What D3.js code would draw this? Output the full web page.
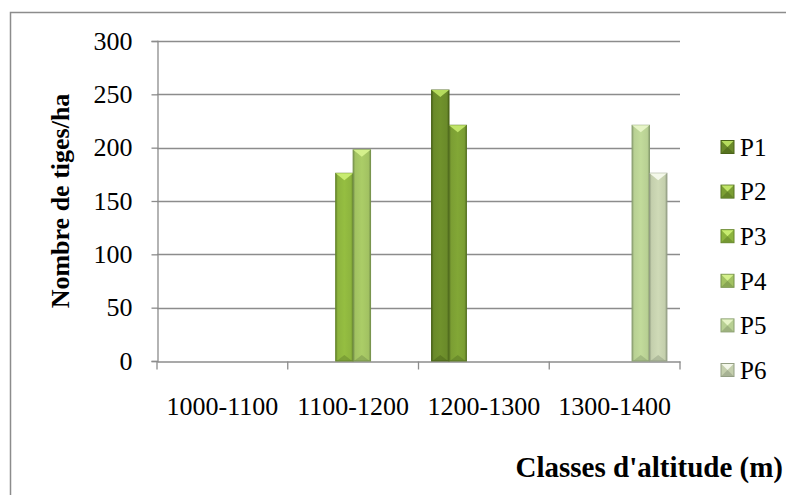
<!DOCTYPE html>
<html><head><meta charset="utf-8">
<script src="https://cdn.jsdelivr.net/npm/d3@7"></script>
<style>body{margin:0;background:#fff}svg{display:block}</style>
</head><body>
<svg id="c" width="786" height="495"></svg>
<script>
const categories = ["1000-1100","1100-1200","1200-1300","1300-1400"];
const seriesNames = ["P1","P2","P3","P4","P5","P6"];
const P1 = [0,0,254,0];
const P2 = [0,0,221,0];
const P3 = [0,176,0,0];
const P4 = [0,198,0,0];
const P5 = [0,0,0,221];
const P6 = [0,0,0,176];
const seriesValues = [P1,P2,P3,P4,P5,P6];
const yTicks = [0,50,100,150,200,250,300];
const colors = ["#6a8a2a","#7b9e33","#8db43e","#a2c262","#b8d093","#c4cfad"];
const darks  = ["#4a6319","#587523","#66862b","#76924a","#8a9f70","#949f84"];
const caps   = ["#b6dc5e","#c0e468","#c8ec70","#d4f08c","#e6f4c6","#f4f8ea"];

const svg = d3.select("#c");
const FF = '"Liberation Serif"';
const L=157, R=680, T=41, B=361;
const FS = 26;

svg.append("rect").attr("x",10.5).attr("y",12.5).attr("width",800).attr("height",500)
  .attr("fill","#fff").attr("stroke","#8c8c8c").attr("stroke-width",1.5);

const y = d3.scaleLinear().domain([0,300]).range([B,T]);
const x0 = d3.scaleBand().domain(categories).range([L,R]).paddingInner(0).paddingOuter(0);
const bw = x0.bandwidth()/7.5;
const x1 = d3.scaleBand().domain(seriesNames).range([bw*0.75, bw*6.75]).padding(0);

// gridlines
svg.append("g").selectAll("line").data(yTicks.filter(d=>d>0)).join("line")
  .attr("x1",L).attr("x2",R).attr("y1",d=>Math.round(y(d))+0.5).attr("y2",d=>Math.round(y(d))+0.5)
  .attr("stroke","#8c8c8c").attr("stroke-width",1.3);

// y axis
const ya = svg.append("g").attr("transform",`translate(${L+0.5},0)`)
  .call(d3.axisLeft(y).tickValues(yTicks).tickSize(6).tickPadding(19));
ya.select(".domain").attr("stroke","#8c8c8c").attr("stroke-width",1.3);
ya.selectAll(".tick line").attr("stroke","#8c8c8c").attr("stroke-width",1.3);
ya.selectAll("text").style("font-family",FF).style("font-size",FS+"px").attr("fill","#000");

// x axis
const xa = svg.append("g").attr("transform",`translate(0,${B+0.5})`)
  .call(d3.axisBottom(x0).tickSize(0).tickPadding(35));
xa.select(".domain").attr("stroke","#8c8c8c").attr("stroke-width",1.3);
xa.selectAll("text").style("font-family",FF).style("font-size",FS+"px").attr("fill","#000");
const edges = d3.range(categories.length+1).map(i=>L+i*x0.bandwidth());
xa.selectAll(".edge").data(edges).join("line").attr("class","edge")
  .attr("x1",d=>d).attr("x2",d=>d).attr("y1",0).attr("y2",8)
  .attr("stroke","#8c8c8c").attr("stroke-width",1.3);

// gradients
const defs = svg.append("defs");
seriesNames.forEach((s,i)=>{
  const g = defs.append("linearGradient").attr("id","g"+i).attr("x1","0").attr("x2","1").attr("y1","0").attr("y2","0");
  g.append("stop").attr("offset","0").attr("stop-color",darks[i]);
  g.append("stop").attr("offset","0.12").attr("stop-color",colors[i]);
  g.append("stop").attr("offset","0.5").attr("stop-color",d3.color(colors[i]).brighter(0.15));
  g.append("stop").attr("offset","0.88").attr("stop-color",colors[i]);
  g.append("stop").attr("offset","1").attr("stop-color",darks[i]);
});

// bars
const bars = [];
seriesValues.forEach((vals,si)=>vals.forEach((v,ci)=>{ if(v>0) bars.push({si,ci,v}); }));
const bg = svg.append("g");
bars.forEach(b=>{
  const bx = x0(categories[b.ci]) + x1(seriesNames[b.si]);
  const by = y(b.v), bh = B - by, w = x1.bandwidth();
  const g = bg.append("g");
  g.append("rect").attr("x",bx).attr("y",by).attr("width",w).attr("height",bh)
    .attr("fill",`url(#g${b.si})`).attr("stroke",darks[b.si]).attr("stroke-width",1);
  g.append("path").attr("d",`M${bx},${by}L${bx+w},${by}L${bx+w/2},${by+7}Z`)
    .attr("fill",caps[b.si]);
  g.append("path").attr("d",`M${bx+1},${B}L${bx+w-1},${B}L${bx+w/2},${B-6}Z`)
    .attr("fill",darks[b.si]).attr("opacity",0.5);
});

// axis titles
svg.append("text").attr("transform","translate(69,201) rotate(-90)").attr("text-anchor","middle")
  .style("font-family",FF).style("font-weight","bold").style("font-size","26px").text("Nombre de tiges/ha");
svg.append("text").attr("x",783).attr("y",477).attr("text-anchor","end")
  .style("font-family",FF).style("font-weight","bold").style("font-size","29px").text("Classes d'altitude (m)");

// legend
const lg = svg.append("g").selectAll("g").data(seriesNames).join("g")
  .attr("transform",(d,i)=>`translate(721,${147+i*44.6})`);
lg.append("rect").attr("x",0).attr("y",-6.5).attr("width",13).attr("height",13)
  .attr("fill",(d,i)=>colors[i]).attr("stroke",(d,i)=>darks[i]).attr("stroke-width",1);
lg.append("path").attr("d","M0.5,-6L12.5,-6L6.5,0Z").attr("fill",(d,i)=>caps[i]);
lg.append("path").attr("d","M0.5,6L12.5,6L6.5,0Z").attr("fill",(d,i)=>darks[i]).attr("opacity",0.6);
lg.append("text").attr("x",19).attr("y",0).attr("dy","0.35em")
  .style("font-family",FF).style("font-size","25px").text(d=>d);
</script>
</body></html>
